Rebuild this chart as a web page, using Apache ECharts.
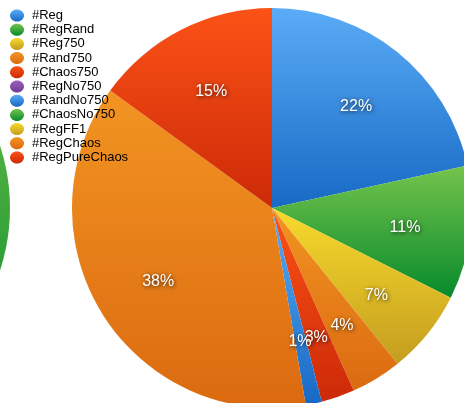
<!DOCTYPE html>
<html><head><meta charset="utf-8">
<script src="https://cdn.jsdelivr.net/npm/echarts@6/dist/echarts.min.js"></script>
<style>html,body{margin:0;padding:0;background:#fff;overflow:hidden}#c{width:464px;height:403px}</style>
</head><body><div id="c"></div>
<script>
const categories = ['#Reg','#RegRand','#Reg750','#Rand750','#Chaos750','#RegNo750','#RandNo750','#ChaosNo750','#RegFF1','#RegChaos','#RegPureChaos'];
const values = [216, 108, 68, 41, 27, 0, 13, 0, 0, 377, 150];
const neighbourNames = ['#RegRand'];
const neighbourValues = [1];

const gradPairs = {
  blue:   ['#5aacf7', '#1769c4'],
  green:  ['#74c44c', '#078a2c'],
  yellow: ['#f7da2c', '#c49d1f'],
  orange: ['#f29422', '#dc6a10'],
  red:    ['#fb5216', '#cc2a08'],
  purple: ['#9d5fc0', '#6f3b93']
};
const colorKeys = ['blue','green','yellow','orange','red','purple','blue','green','yellow','orange','red'];

function grad(key) {
  const p = gradPairs[key];
  return new echarts.graphic.LinearGradient(0, 0, 0, 1, [
    { offset: 0, color: p[0] },
    { offset: 1, color: p[1] }
  ]);
}

const mainData = categories.map((n, i) => ({ name: n, value: values[i], itemStyle: { color: grad(colorKeys[i]) } }));
const labelData = categories.map((n, i) => ({ name: n, value: values[i] }));
const neighbourData = neighbourNames.map((n, i) => ({ name: n, value: neighbourValues[i], itemStyle: { color: grad(colorKeys[categories.indexOf(n)]) } }));

const chart = echarts.init(document.getElementById('c'), null, { renderer: 'canvas' });
chart.setOption({
  animation: false,
  legend: {
    orient: 'vertical',
    left: 10,
    top: 9,
    padding: 0,
    itemWidth: 14,
    itemHeight: 12,
    itemGap: 1.2,
    icon: 'path://M7,0C10.9,0 14,2.7 14,6C14,9.3 10.9,12 7,12C3.1,12 0,9.3 0,6C0,2.7 3.1,0 7,0Z',
    data: categories,
    textStyle: { color: '#000', fontSize: 13, fontFamily: 'Liberation Sans, Arial, sans-serif', padding: [0, 0, 0, 3] },
    selectedMode: false
  },
  series: [
    {
      type: 'pie',
      center: [272, 208],
      radius: [0, 200],
      startAngle: 90,
      clockwise: true,
      silent: true,
      label: { show: false },
      labelLine: { show: false },
      itemStyle: { borderWidth: 0 },
      data: mainData
    },
    {
      type: 'pie',
      center: [-190, 208],
      radius: [0, 200],
      silent: true,
      label: { show: false },
      labelLine: { show: false },
      data: neighbourData
    },
    {
      type: 'pie',
      center: [272, 208],
      radius: [62, 200],
      startAngle: 90,
      clockwise: true,
      silent: true,
      avoidLabelOverlap: false,
      labelLayout: { hideOverlap: false },
      itemStyle: { color: 'rgba(0,0,0,0)', borderWidth: 0 },
      label: {
        show: true,
        position: 'inside',
        color: '#fff',
        fontSize: 16,
        offset: [0, 3],
        fontFamily: 'Liberation Sans, Arial, sans-serif',
        textShadowColor: 'rgba(0,0,0,0.8)',
        textShadowBlur: 4,
        textShadowOffsetX: 1,
        textShadowOffsetY: 1,
        formatter: p => p.value > 0 ? Math.round(p.percent) + '%' : ''
      },
      labelLine: { show: false },
      data: labelData
    }
  ]
});
</script></body></html>
